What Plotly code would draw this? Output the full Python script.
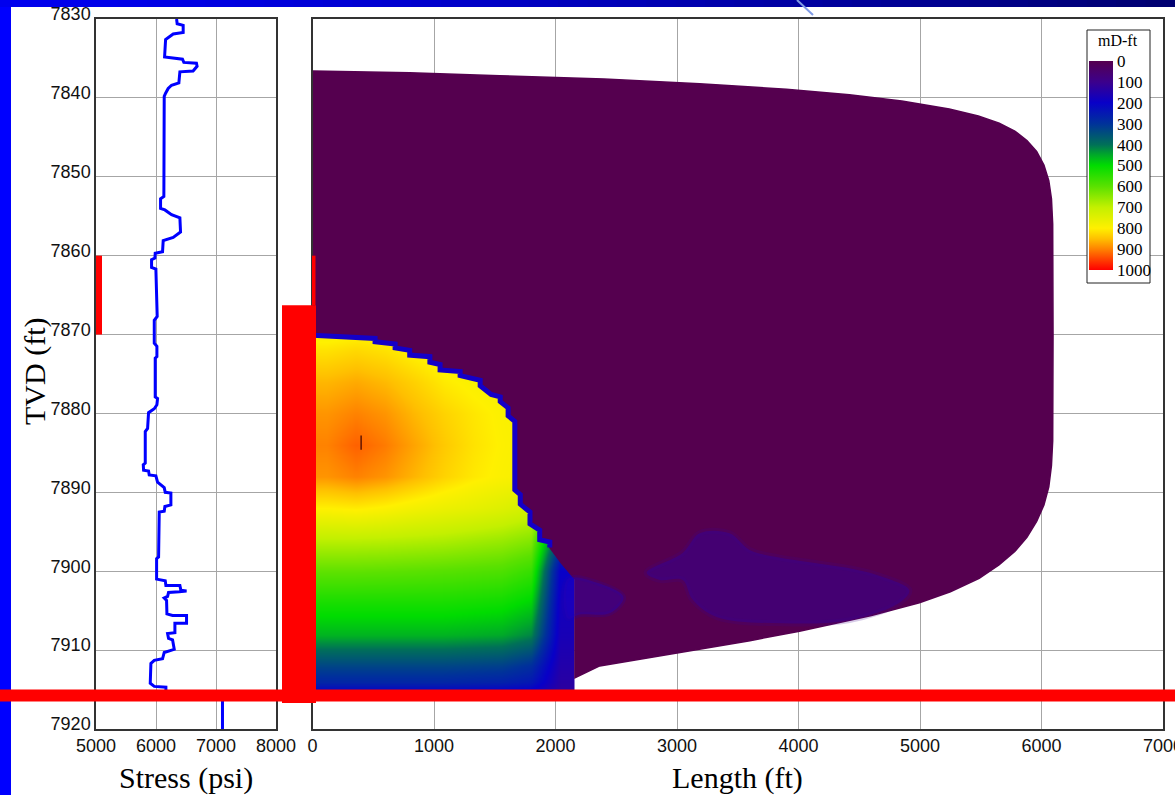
import plotly.graph_objects as go

W, H = 1175, 795

# ---------------- stress log (left track) ----------------
stress_psi = [6343, 6353, 6453, 6453, 6287, 6160, 6143, 6441, 6464, 6674, 6685, 6618,
              6398, 6381, 6259, 6203, 6160, 6137, 6131, 6076, 6076, 6148, 6259, 6398,
              6409, 6287, 6120, 6109, 5987, 5982, 5926, 5926, 5998, 6010, 6020, 5971,
              5971, 6015, 6015, 5987, 5987, 6026, 6015, 5971, 5876, 5860, 5821, 5821,
              5788, 5793, 5876, 5887, 5998, 6026, 6137, 6154, 6248, 6248, 6148, 6137,
              6054, 6043, 6010, 6010, 6154, 6165, 6398, 6414, 6509, 6387, 6209, 6193,
              6137, 6176, 6182, 6276, 6509, 6509, 6315, 6315, 6193, 6209, 6276, 6304,
              6137, 6109, 5971, 5915, 5904, 5971, 6165, 6165, 7108, 7108]
stress_tvd = [7830.0, 7830.6, 7830.8, 7831.7, 7831.9, 7832.6, 7834.8, 7835.1, 7835.5,
              7835.6, 7836.0, 7836.6, 7836.7, 7838.1, 7838.4, 7838.8, 7839.4, 7839.8,
              7852.5, 7852.8, 7854.0, 7854.2, 7854.8, 7855.2, 7857.0, 7857.7, 7858.1,
              7859.5, 7859.7, 7860.3, 7860.5, 7861.5, 7861.7, 7866.4, 7867.7, 7868.2,
              7871.1, 7871.5, 7872.8, 7873.0, 7877.9, 7878.1, 7878.9, 7879.4, 7879.9,
              7881.9, 7882.3, 7886.3, 7886.5, 7887.2, 7887.3, 7887.8, 7887.9, 7888.7,
              7889.4, 7890.0, 7890.1, 7891.6, 7891.8, 7892.4, 7892.5, 7898.2, 7898.4,
              7901.0, 7901.2, 7901.8, 7901.8, 7902.4, 7902.5, 7902.6, 7902.7, 7903.2,
              7903.4, 7903.7, 7905.4, 7905.6, 7905.6, 7906.6, 7906.6, 7907.8, 7907.9,
              7908.5, 7908.7, 7909.9, 7910.3, 7911.1, 7911.3, 7911.7, 7914.2, 7914.6,
              7914.7, 7915.6, 7915.6, 7920.0]

# perforated interval and wellbore marks (TVD, ft)
perf_top, perf_bottom = 7860, 7870
wellbore_top, wellbore_bottom = 7866.3, 7916.7
casing_top = 7915.0
casing_bottom = 7916.5

# gauge mark inside the fracture (length ft, TVD ft)
gauge_len = 400
gauge_top, gauge_bottom = 7882.8, 7884.6

# ---------------- fracture envelope (length ft, TVD ft) ----------------
env_len = [0, 800, 1541, 2400, 3186, 3900, 4419, 4850, 5241, 5480, 5652, 5780, 5880,
           5960, 6020, 6060, 6082, 6092, 6095, 6092, 6082, 6060, 6020, 5960, 5880,
           5780, 5650, 5487, 5250, 4995, 4600, 4008, 3600, 3186, 2800, 2364, 2160]
env_tvd = [7836.6, 7836.8, 7837.2, 7837.6, 7838.2, 7838.9, 7839.6, 7840.4, 7841.4,
           7842.3, 7843.2, 7844.2, 7845.4, 7846.8, 7848.5, 7850.5, 7852.8, 7856.0,
           7870.0, 7883.5, 7886.6, 7889.3, 7891.6, 7893.7, 7895.7, 7897.5, 7899.2,
           7900.9, 7902.6, 7904.0, 7905.6, 7907.6, 7908.8, 7909.9, 7910.9, 7912.0,
           7913.5]

# outline of the conductive zone near the wellbore (bottom-right to top-left)
zone_len = [2160, 2160, 2050, 1953, 1953, 1870, 1870, 1790, 1790, 1710, 1710, 1665,
            1665, 1610, 1610, 1545, 1545, 1470, 1380, 1380, 1215, 1215, 1050, 1050,
            966, 966, 800, 800, 680, 680, 515, 515, 310, 0]
zone_tvd = [7913.5, 7901.0, 7899.0, 7897.0, 7896.3, 7896.0, 7894.8, 7894.0, 7892.5,
            7891.5, 7890.3, 7889.7, 7881.0, 7880.3, 7879.3, 7878.5, 7877.9, 7877.6,
            7876.5, 7875.8, 7875.2, 7874.7, 7874.5, 7873.8, 7873.5, 7872.8, 7872.6,
            7872.0, 7871.7, 7871.2, 7870.9, 7870.5, 7870.4, 7870.1]

# low-conductivity patches further out along the fracture
patch_len = [2750, 3046, 3186, 3432, 3597, 3819, 4148, 4477, 4690, 4912, 4830, 4419,
             3868, 3325, 3128, 3046, 2857]
patch_tvd = [7900.2, 7897.7, 7895.2, 7895.2, 7897.3, 7898.2, 7899.0, 7899.8, 7900.7,
             7902.4, 7904.0, 7906.2, 7906.6, 7905.8, 7903.6, 7901.1, 7901.1]
tail_len = [2100, 2350, 2560, 2450, 2200, 2100]
tail_tvd = [7901.0, 7901.5, 7903.3, 7905.3, 7905.5, 7906.0]

# ---------------- conductivity grid (mD-ft) ----------------
cond_len_edges = [0, 240, 480, 720, 960, 1200, 1440, 1680, 1920, 2160]
cond_tvd_edges = [7866, 7870, 7874, 7878, 7882, 7886, 7890, 7894, 7898, 7902, 7906,
                  7910, 7914, 7916]
cond_mdft = [
    [760, 770, 770, 765, 760, 755, 755, 755, 755],
    [815, 825, 815, 795, 778, 768, 762, 760, 760],
    [858, 868, 855, 832, 806, 792, 782, 776, 775],
    [885, 900, 885, 856, 830, 810, 794, 783, 780],
    [900, 925, 905, 872, 840, 814, 797, 787, 785],
    [885, 900, 885, 858, 830, 808, 793, 783, 776],
    [800, 805, 795, 780, 768, 758, 744, 724, 600],
    [695, 695, 692, 687, 682, 672, 662, 642, 320],
    [605, 605, 603, 600, 596, 591, 586, 560, 200],
    [525, 525, 525, 525, 525, 520, 515, 490, 180],
    [460, 460, 460, 460, 460, 455, 450, 420, 170],
    [330, 330, 330, 330, 330, 325, 320, 290, 150],
    [220, 220, 220, 220, 220, 215, 210, 200, 130],
]

# colour scale for conductivity
cond_stops = [0, 100, 200, 300, 400, 450, 500, 600, 700, 800, 850, 900, 950, 1000]
cond_colors = ['#55004f', '#3c008c', '#0800c8', '#00329a', '#007058', '#00aa28',
               '#00dc00', '#5ae100', '#c3f000', '#fff000', '#ffc000', '#ff8200',
               '#ff4000', '#ff0000']
cbar_ticks = [0, 100, 200, 300, 400, 500, 600, 700, 800, 900, 1000]

PURPLE = cond_colors[0]

# The colour bar reads 0 at the top, so values are plotted negated.
colorscale = sorted([(1 - c / 1000.0, col) for c, col in zip(cond_stops, cond_colors)])

SERIF = "Liberation Serif"
SANS = "Liberation Sans"

def px_x(p):
    return p / W

def px_y(p):
    return 1 - p / H

fig = go.Figure()

# stress log
fig.add_trace(go.Scatter(x=stress_psi, y=stress_tvd, mode="lines",
                         line=dict(color="#0000ff", width=3), xaxis="x", yaxis="y",
                         showlegend=False, hoverinfo="skip"))

# conductivity field near the wellbore
fig.add_trace(go.Heatmap(
    x=cond_len_edges, y=cond_tvd_edges, z=[[-v for v in row] for row in cond_mdft],
    zmin=-1000, zmax=0, colorscale=colorscale, zsmooth="best",
    xaxis="x2", yaxis="y2", hoverinfo="skip",
    colorbar=dict(
        x=px_x(1089), xanchor="left", y=px_y(61), yanchor="top",
        lenmode="pixels", len=209, thicknessmode="pixels", thickness=24,
        xpad=0, ypad=0, bgcolor="rgba(0,0,0,0)", borderwidth=0, outlinewidth=0,
        tickmode="array", tickvals=[-t for t in cbar_ticks],
        ticktext=[str(t) for t in cbar_ticks], ticks="",
        tickfont=dict(family=SERIF, size=17, color="black"),
    ),
))

# low-conductivity body of the fracture
body_x = env_len + zone_len + [env_len[0]]
body_y = env_tvd + zone_tvd + [env_tvd[0]]
fig.add_trace(go.Scatter(x=body_x, y=body_y, mode="lines", fill="toself",
                         fillcolor=PURPLE, line=dict(width=1.5, color=PURPLE),
                         xaxis="x2", yaxis="y2", showlegend=False, hoverinfo="skip"))

fig.add_trace(go.Scatter(x=patch_len + patch_len[:1], y=patch_tvd + patch_tvd[:1],
                         mode="lines", fill="toself", fillcolor="rgba(52,0,150,0.5)",
                         line=dict(width=6, color="rgba(60,0,140,0.2)", shape="spline"),
                         xaxis="x2", yaxis="y2", showlegend=False, hoverinfo="skip"))
fig.add_trace(go.Scatter(x=tail_len + tail_len[:1], y=tail_tvd + tail_tvd[:1],
                         mode="lines", fill="toself", fillcolor="rgba(40,0,190,0.38)",
                         line=dict(width=5, color="rgba(40,0,170,0.2)", shape="spline"),
                         xaxis="x2", yaxis="y2", showlegend=False, hoverinfo="skip"))

# blue fringe at the edge of the conductive zone
fig.add_trace(go.Scatter(x=zone_len[3:], y=zone_tvd[3:], mode="lines",
                         line=dict(color="#1400c8", width=5),
                         xaxis="x2", yaxis="y2", showlegend=False, hoverinfo="skip"))

# gauge mark
fig.add_trace(go.Scatter(x=[gauge_len, gauge_len], y=[gauge_top, gauge_bottom],
                         mode="lines", line=dict(color="#3a0000", width=1.2),
                         xaxis="x2", yaxis="y2", showlegend=False, hoverinfo="skip"))

axis_common = dict(showgrid=True, gridcolor="#a6a6a6", gridwidth=1, showline=True,
                   linecolor="#333333", linewidth=1.5, mirror=True, ticks="",
                   zeroline=False, ticklabeloverflow="allow",
                   tickfont=dict(family=SANS, size=18, color="#111111"))

y_dom = [px_y(729), px_y(19)]
fig.update_layout(
    width=W, height=H, margin=dict(l=0, r=0, t=0, b=0, pad=0, autoexpand=False),
    paper_bgcolor="white", plot_bgcolor="white", showlegend=False,
    xaxis=dict(domain=[px_x(96), px_x(276)], range=[5000, 8000],
               tickvals=[5000, 6000, 7000, 8000], anchor="y", **axis_common),
    yaxis=dict(domain=y_dom, range=[7920, 7830], tickvals=list(range(7830, 7921, 10)),
               anchor="x", ticklabelshift=5, **axis_common),
    xaxis2=dict(domain=[px_x(312.5), px_x(1163)], range=[0, 7000],
                tickvals=list(range(0, 7001, 1000)), anchor="y2", **axis_common),
    yaxis2=dict(domain=y_dom, range=[7920, 7830], matches="y", anchor="x2",
                tickvals=list(range(7830, 7921, 10)), showticklabels=False,
                **{k: v for k, v in axis_common.items()
                   if k not in ("tickfont", "ticklabeloverflow")}),
)

# axis titles
title_font = dict(family=SERIF, size=30, color="black")
for txt, ax, ay, ang in [("Stress (psi)", 186, 778, 0), ("Length (ft)", 737, 778, 0),
                         ("TVD (ft)", 35, 372, -90)]:
    fig.add_annotation(text=txt, x=px_x(ax), y=px_y(ay), xref="paper", yref="paper",
                       xanchor="center", yanchor="middle", showarrow=False,
                       font=title_font, textangle=ang)

# colour bar heading
fig.add_annotation(text="mD-ft", x=px_x(1118), y=px_y(41), xref="paper", yref="paper",
                   xanchor="center", yanchor="middle", showarrow=False,
                   font=dict(family=SERIF, size=16, color="black"))

shapes = []
# slide frame: blue strip on the left and graded band across the top
shapes.append(dict(type="rect", xref="paper", yref="paper", x0=0, x1=px_x(11),
                   y0=0, y1=1, fillcolor="#0000ff", line=dict(width=0)))
n_seg = 40
for i in range(n_seg):
    f = i / (n_seg - 1)
    b = int(238 - 125 * f ** 1.3)
    shapes.append(dict(type="rect", xref="paper", yref="paper",
                       x0=i / n_seg, x1=(i + 1) / n_seg + 0.002, y0=px_y(7), y1=1,
                       fillcolor=f"rgb(0,0,{b})", line=dict(width=0)))
shapes.append(dict(type="line", xref="paper", yref="paper", x0=px_x(797), y0=1,
                   x1=px_x(813), y1=px_y(15), line=dict(color="#7f9be6", width=2)))

# frame of the colour bar
shapes.append(dict(type="rect", xref="paper", yref="paper", x0=px_x(1087),
                   x1=px_x(1150), y0=px_y(283), y1=px_y(30), fillcolor="white",
                   line=dict(color="#222222", width=1)))

# perforations on the stress track
shapes.append(dict(type="rect", xref="x", yref="y", x0=5000, x1=5100,
                   y0=perf_top, y1=perf_bottom, fillcolor="#ff0000", line=dict(width=0)))
# wellbore marks at the fracture face
shapes.append(dict(type="rect", xref="paper", yref="y", x0=px_x(312), x1=px_x(315.5),
                   y0=perf_top, y1=wellbore_top, fillcolor="#ff0000", line=dict(width=0)))
shapes.append(dict(type="rect", xref="paper", yref="y", x0=px_x(282), x1=px_x(316),
                   y0=wellbore_top, y1=wellbore_bottom, fillcolor="#ff0000",
                   line=dict(width=0)))
shapes.append(dict(type="rect", xref="paper", yref="y", x0=0, x1=1,
                   y0=casing_top, y1=casing_bottom, fillcolor="#ff0000",
                   line=dict(width=0)))
fig.update_layout(shapes=shapes)

fig.write_html("out.html")
